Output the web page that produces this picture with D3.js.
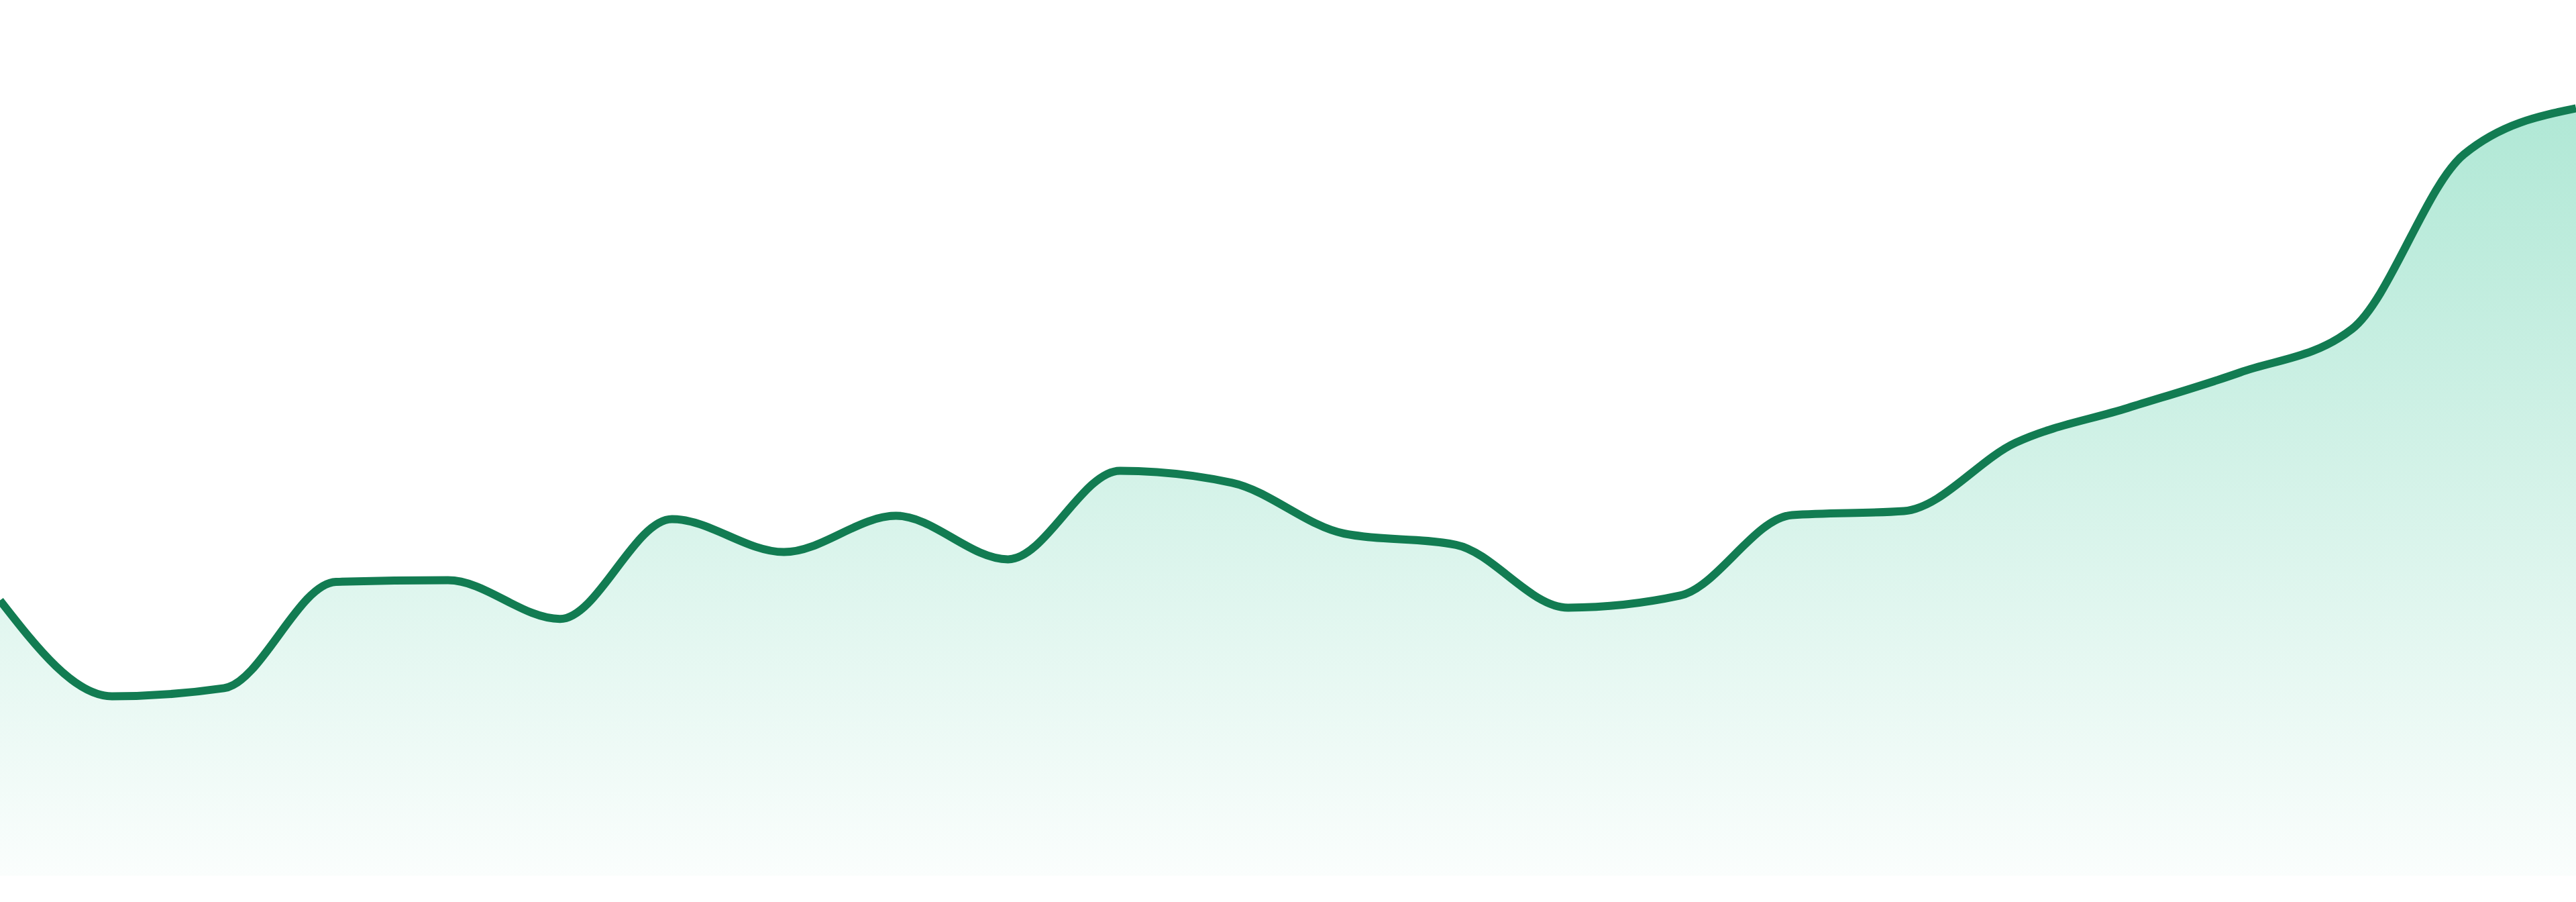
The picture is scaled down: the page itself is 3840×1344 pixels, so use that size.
<!DOCTYPE html>
<html>
<head>
<meta charset="utf-8">
<script src="https://cdn.jsdelivr.net/npm/d3@7"></script>
<style>
  html, body { margin: 0; padding: 0; background: #fff; }
  svg { display: block; }
</style>
</head>
<body>
<svg id="chart" width="3840" height="1344"></svg>
<script>
// periods along the x axis (evenly spaced, no labels shown)
const periods = d3.range(24);
// series values
const values = [
  34.2, 22.3, 23.3, 36.5, 36.7, 31.9, 44.3, 40.2, 44.7, 39.3, 50.3, 48.8,
  42.5, 41.1, 33.3, 34.8, 44.8, 45.3, 53.8, 58.1, 62.5, 67.9, 89.6, 95.3
];
const yDomain = [0, 100];

const svg = d3.select("#chart");
const W = +svg.attr("width");
const baseY = 1305;

const x = d3.scaleLinear()
  .domain([0, periods.length - 1])
  .range([0, W]);

const y = d3.scaleLinear()
  .domain(yDomain)
  .range([baseY, 105]);

const data = periods.map((p, i) => ({ p, v: values[i] }));

const grad = svg.append("defs")
  .append("linearGradient")
  .attr("id", "fillGrad")
  .attr("x1", 0).attr("y1", 0)
  .attr("x2", 0).attr("y2", 1);

grad.append("stop")
  .attr("offset", "0%")
  .attr("stop-color", "#10b981")
  .attr("stop-opacity", 0.33);
grad.append("stop")
  .attr("offset", "100%")
  .attr("stop-color", "#10b981")
  .attr("stop-opacity", 0.02);

const area = d3.area()
  .x(d => x(d.p))
  .y0(y(0))
  .y1(d => y(d.v))
  .curve(d3.curveMonotoneX);

const line = d3.line()
  .x(d => x(d.p))
  .y(d => y(d.v))
  .curve(d3.curveMonotoneX);

svg.append("path")
  .datum(data)
  .attr("fill", "url(#fillGrad)")
  .attr("d", area);

svg.append("path")
  .datum(data)
  .attr("fill", "none")
  .attr("stroke", "#127c52")
  .attr("stroke-width", 12)
  .attr("stroke-linejoin", "round")
  .attr("d", line);
</script>
</body>
</html>
